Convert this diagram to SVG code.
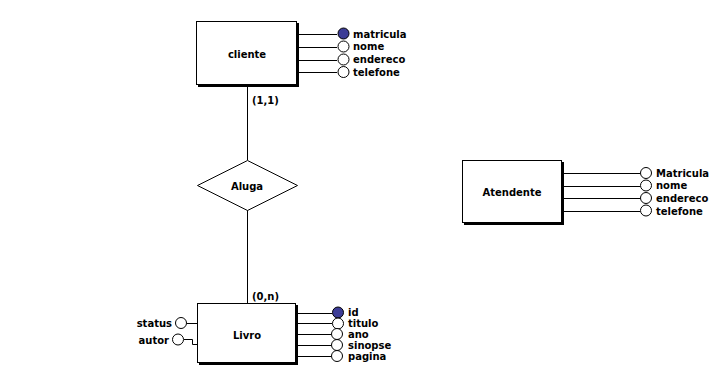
<svg xmlns="http://www.w3.org/2000/svg" width="720" height="373" viewBox="0 0 720 373">
  <style>
    text { font-family: "DejaVu Sans", Verdana, sans-serif; font-weight: bold; font-size: 10px; fill: #000; }
    .lbl { text-anchor: middle; dominant-baseline: central; }
    .box { fill: #fff; stroke: #000; stroke-width: 1; }
    .shadow { fill: #000; }
    .line { fill: none; stroke: #000; stroke-width: 1; }
    .attr { fill: #fff; stroke: #000; stroke-width: 1; }
    .key { fill: #3c3c96; stroke: #000; stroke-width: 1; }
  </style>
  <rect width="720" height="373" fill="#fff"/>

  <!-- connectors -->
  <g id="connectors">
    <!-- relationship lines -->
    <line class="line" x1="247.5" y1="86" x2="247.5" y2="160"/>
    <line class="line" x1="247.5" y1="210" x2="247.5" y2="303"/>
    <text x="252" y="104">(1,1)</text>
    <text x="252" y="300">(0,n)</text>
    <!-- cliente attributes -->
    <line class="line" x1="298" y1="34.5" x2="337" y2="34.5"/>
    <line class="line" x1="298" y1="47.5" x2="337" y2="47.5"/>
    <line class="line" x1="298" y1="60.5" x2="337" y2="60.5"/>
    <line class="line" x1="298" y1="72.5" x2="337" y2="72.5"/>
    <!-- Atendente attributes -->
    <line class="line" x1="563" y1="173.5" x2="640" y2="173.5"/>
    <line class="line" x1="563" y1="186.5" x2="640" y2="186.5"/>
    <line class="line" x1="563" y1="198.5" x2="640" y2="198.5"/>
    <line class="line" x1="563" y1="211.5" x2="640" y2="211.5"/>
    <!-- Livro attributes -->
    <line class="line" x1="297" y1="313.5" x2="332" y2="313.5"/>
    <line class="line" x1="297" y1="323.5" x2="332" y2="323.5"/>
    <line class="line" x1="297" y1="334.5" x2="331" y2="334.5"/>
    <line class="line" x1="297" y1="345.5" x2="331" y2="345.5"/>
    <line class="line" x1="297" y1="356.5" x2="331" y2="356.5"/>
    <line class="line" x1="187" y1="323.5" x2="197" y2="323.5"/>
    <polyline class="line" points="184,339.5 192.5,339.5 192.5,344.5 197,344.5"/>
  </g>

  <!-- cliente entity -->
  <g id="cliente">
    <rect class="shadow" x="198" y="23" width="101" height="64"/>
    <rect class="box" x="196.5" y="21.5" width="100" height="63"/>
    <text class="lbl" x="247" y="54">cliente</text>
    <circle class="key" cx="343.5" cy="33.5" r="5.5"/>
    <circle class="attr" cx="343.5" cy="46.5" r="5.5"/>
    <circle class="attr" cx="343.5" cy="59.5" r="5.5"/>
    <circle class="attr" cx="343.5" cy="72" r="5.5"/>
    <text x="353" y="38">matricula</text>
    <text x="353" y="50">nome</text>
    <text x="353" y="63">endereco</text>
    <text x="353" y="76">telefone</text>
  </g>

  <!-- Aluga relationship -->
  <g id="Aluga">
    <polygon class="box" points="247.5,160.5 297.5,185.5 247.5,210.5 197.5,185.5"/>
    <text class="lbl" x="247" y="186">Aluga</text>
  </g>

  <!-- Atendente entity -->
  <g id="Atendente">
    <rect class="shadow" x="464" y="162" width="100" height="63"/>
    <rect class="box" x="462.5" y="160.5" width="99" height="62"/>
    <text class="lbl" x="512" y="192">Atendente</text>
    <circle class="attr" cx="646" cy="173" r="5.5"/>
    <circle class="attr" cx="646" cy="185.5" r="5.5"/>
    <circle class="attr" cx="646" cy="198" r="5.5"/>
    <circle class="attr" cx="646" cy="210.5" r="5.5"/>
    <text x="656" y="177">Matricula</text>
    <text x="656" y="189">nome</text>
    <text x="656" y="202">endereco</text>
    <text x="656" y="215">telefone</text>
  </g>

  <!-- Livro entity -->
  <g id="Livro">
    <rect class="shadow" x="199" y="305" width="99" height="60"/>
    <rect class="box" x="197.5" y="303.5" width="98" height="59"/>
    <text class="lbl" x="247" y="335">Livro</text>
    <circle class="key" cx="338" cy="312.5" r="5.5"/>
    <circle class="attr" cx="338" cy="323.5" r="5.5"/>
    <circle class="attr" cx="337" cy="334" r="5.5"/>
    <circle class="attr" cx="337" cy="345" r="5.5"/>
    <circle class="attr" cx="337" cy="356" r="5.5"/>
    <text x="348" y="316">id</text>
    <text x="348" y="327">titulo</text>
    <text x="348" y="338">ano</text>
    <text x="348" y="349">sinopse</text>
    <text x="348" y="360">pagina</text>
    <circle class="attr" cx="181" cy="323" r="5.5"/>
    <circle class="attr" cx="178" cy="339.5" r="5.5"/>
    <text x="172" y="327" text-anchor="end">status</text>
    <text x="169" y="344" text-anchor="end">autor</text>
  </g>
</svg>
